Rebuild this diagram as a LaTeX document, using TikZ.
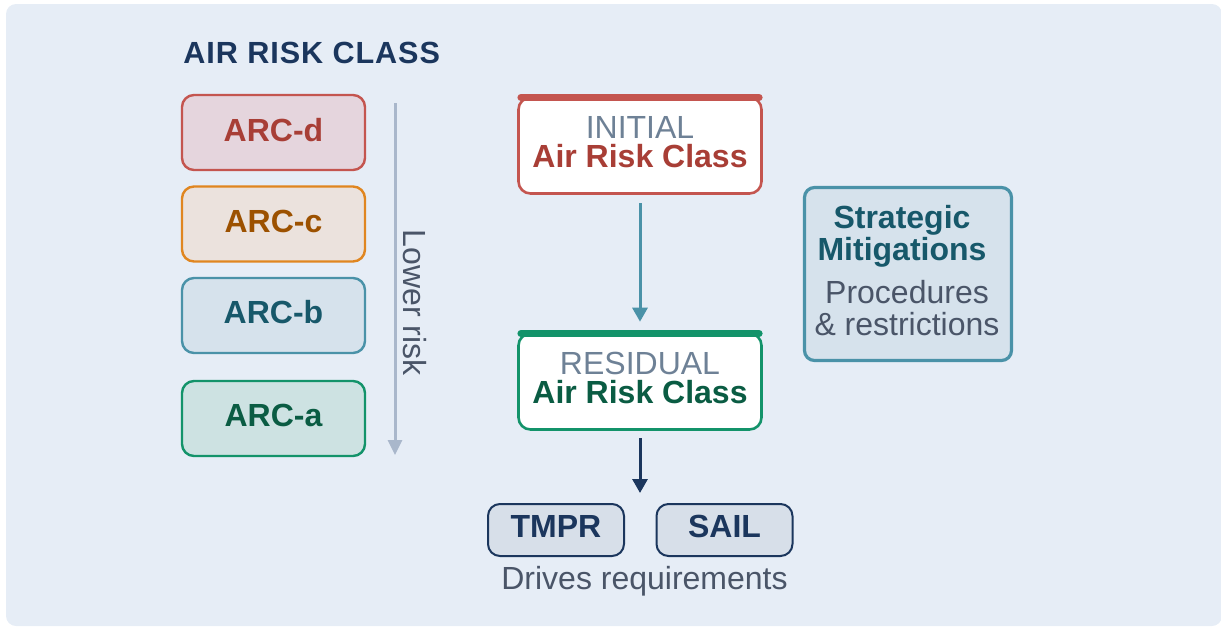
\documentclass[tikz,border=0pt]{standalone}
\usepackage{fontspec}
\setmainfont{Liberation Sans}
\usetikzlibrary{arrows.meta}

\definecolor{bgpanel}{HTML}{E6EDF6}
\definecolor{navy}{HTML}{1B365D}
\definecolor{slate}{HTML}{4A5568}
\definecolor{steel}{HTML}{6E8196}
\definecolor{riskline}{HTML}{A9B7CB}
\definecolor{dStroke}{HTML}{C4554F}\definecolor{dFill}{HTML}{E5D5DD}\definecolor{dText}{HTML}{A83E36}
\definecolor{cStroke}{HTML}{E08620}\definecolor{cFill}{HTML}{EBE2DD}\definecolor{cText}{HTML}{9C5100}
\definecolor{bStroke}{HTML}{4A92A8}\definecolor{bFill}{HTML}{D6E2EC}\definecolor{bText}{HTML}{17586A}
\definecolor{aStroke}{HTML}{13936A}\definecolor{aFill}{HTML}{CDE2E2}\definecolor{aText}{HTML}{0A5C43}
\definecolor{outFill}{HTML}{D7DFE9}

\tikzset{
  arcbox/.style={draw, line width=1.2pt, rounded corners=6pt, minimum width=91.5pt, minimum height=37.5pt, inner sep=0pt},
  classbox/.style={draw, fill=white, line width=1.3pt, rounded corners=6pt, minimum width=121.5pt, minimum height=48pt, inner sep=0pt},
  topbar/.style={line width=3.6pt, line cap=round},
  outbox/.style={draw=navy, fill=outFill, line width=1pt, rounded corners=6pt, minimum width=68pt, minimum height=26pt, inner sep=0pt},
  mitbox/.style={draw=bStroke, fill=bFill, line width=1.6pt, rounded corners=5pt, minimum width=103.5pt, minimum height=86.5pt, inner sep=0pt},
  txt/.style={inner sep=0pt, anchor=base, font=\fontsize{16pt}{19pt}\selectfont},
  btxt/.style={txt, font=\fontsize{16pt}{19pt}\selectfont\bfseries},
  flow/.style={line width=1.5pt, -{Triangle[length=7pt,width=7.5pt]}},
}

\begin{document}
\begin{tikzpicture}[x=0.5pt, y=-0.5pt]
  \useasboundingbox (0,0) rectangle (1221,627);
  % panel
  \fill[bgpanel, rounded corners=5pt] (6,4) rectangle (1222,626);

  % left column: the four air risk classes
  \node[btxt, anchor=base west, text=navy,
        font=\fontsize{15.3pt}{18pt}\selectfont\bfseries\addfontfeatures{LetterSpace=3}]
        (title) at (183,63) {AIR RISK CLASS};

  \node[arcbox, draw=dStroke, fill=dFill] (arcd) at (273.5,132.5) {};
  \node[arcbox, draw=cStroke, fill=cFill] (arcc) at (273.5,224) {};
  \node[arcbox, draw=bStroke, fill=bFill] (arcb) at (273.5,315.5) {};
  \node[arcbox, draw=aStroke, fill=aFill] (arca) at (273.5,418.5) {};
  \node[btxt, text=dText] (arcdT) at (273.5,141) {ARC-d};
  \node[btxt, text=cText] (arccT) at (273.5,232) {ARC-c};
  \node[btxt, text=bText] (arcbT) at (273.5,323) {ARC-b};
  \node[btxt, text=aText] (arcaT) at (273.5,426) {ARC-a};

  % risk scale
  \coordinate (riskTop) at (395,103);
  \coordinate (riskTip) at (395,455);
  \draw[line width=1.5pt, draw=riskline, -{Triangle[length=7.5pt,width=7pt]}] (riskTop) -- (riskTip);
  \node[txt, text=slate, rotate=-90] (riskT) at (403,302.5) {Lower risk};

  % initial class
  \node[classbox, draw=dStroke] (init) at (640,145.5) {};
  \draw[topbar, dStroke] (521,97.5) -- (759,97.5);
  \node[txt, text=steel] (initA) at (640,138) {INITIAL};
  \node[btxt, text=dText] (initB) at (640,167) {Air Risk Class};

  % residual class
  \node[classbox, draw=aStroke] (resid) at (640,381.5) {};
  \draw[topbar, aStroke] (521,333.5) -- (759,333.5);
  \node[txt, text=steel] (residA) at (640,374) {RESIDUAL};
  \node[btxt, text=aText] (residB) at (640,403) {Air Risk Class};

  \draw[flow, bStroke, shorten <=4.25pt, shorten >=5.25pt] (init.south) -- (resid.north);

  % strategic mitigations
  \node[mitbox] (mit) at (908,274) {};
  \node[btxt, text=bText] (mitA) at (902,228) {Strategic};
  \node[btxt, text=bText] (mitB) at (902,260) {Mitigations};
  \node[txt, text=slate] (mitC) at (907,303) {Procedures};
  \node[txt, text=slate] (mitD) at (907,335) {\& restrictions};

  % outputs
  \coordinate (outTip) at (640,493);
  \draw[flow, navy, shorten <=3.75pt] (resid.south) -- (outTip);
  \node[outbox] (tmpr) at (556,530) {};
  \node[outbox] (sail) at (724.5,530) {};
  \node[btxt, text=navy] (tmprT) at (556,537) {TMPR};
  \node[btxt, text=navy] (sailT) at (724.5,537) {SAIL};
  \node[txt, text=slate] (drv) at (644.5,589) {Drives requirements};
\end{tikzpicture}
\end{document}
